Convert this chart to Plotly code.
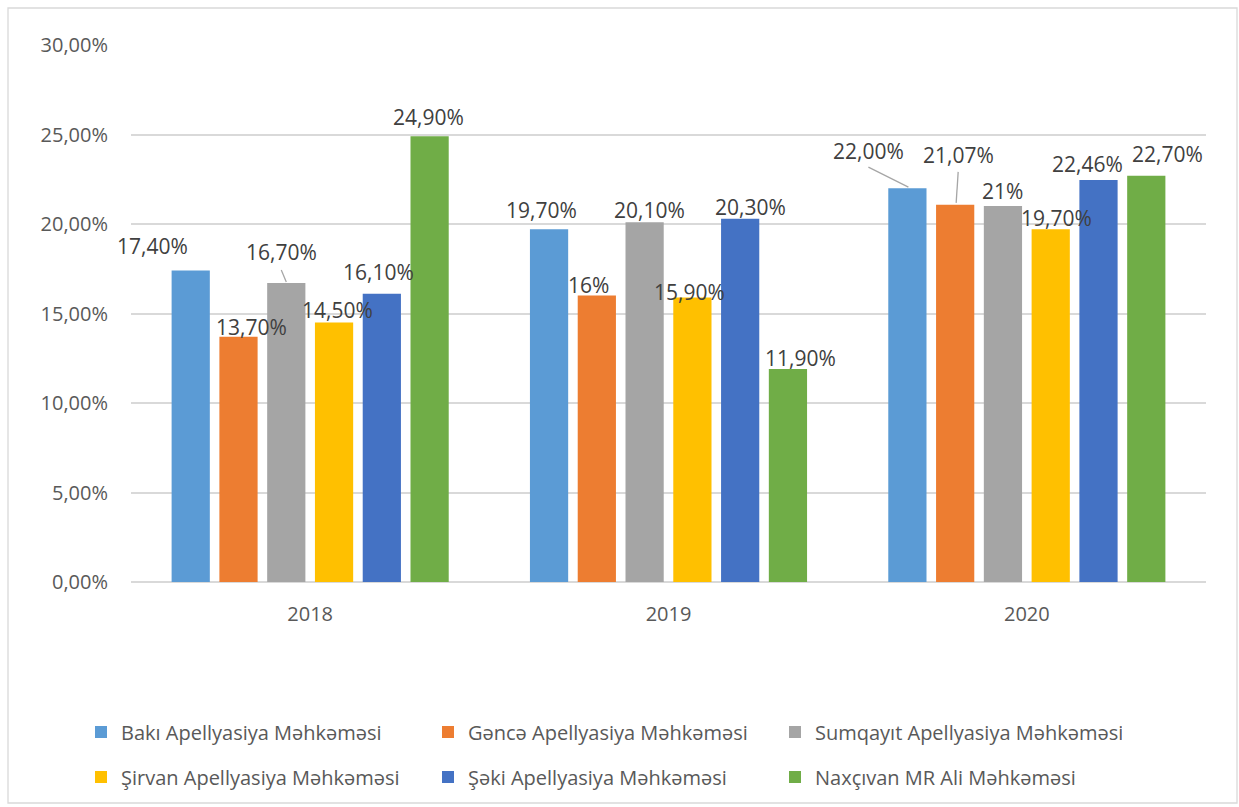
import plotly.graph_objects as go

years = ["2018", "2019", "2020"]
series_names = [
    "Bakı Apellyasiya Məhkəməsi",
    "Gəncə Apellyasiya Məhkəməsi",
    "Sumqayıt Apellyasiya Məhkəməsi",
    "Şirvan Apellyasiya Məhkəməsi",
    "Şəki Apellyasiya Məhkəməsi",
    "Naxçıvan MR Ali Məhkəməsi",
]
baki = [17.40, 19.70, 22.00]
gence = [13.70, 16.00, 21.07]
sumqayit = [16.70, 20.10, 21.00]
sirvan = [14.50, 15.90, 19.70]
seki = [16.10, 20.30, 22.46]
naxcivan = [24.90, 11.90, 22.70]
values = [baki, gence, sumqayit, sirvan, seki, naxcivan]

baki_lbl = ["17,40%", "19,70%", "22,00%"]
gence_lbl = ["13,70%", "16%", "21,07%"]
sumqayit_lbl = ["16,70%", "20,10%", "21%"]
sirvan_lbl = ["14,50%", "15,90%", "19,70%"]
seki_lbl = ["16,10%", "20,30%", "22,46%"]
naxcivan_lbl = ["24,90%", "11,90%", "22,70%"]
labels = [baki_lbl, gence_lbl, sumqayit_lbl, sirvan_lbl, seki_lbl, naxcivan_lbl]

y_ticks = [0, 5, 10, 15, 20, 25, 30]
y_tick_text = ["0,00%", "5,00%", "10,00%", "15,00%", "20,00%", "25,00%", "30,00%"]

colors = ["#5B9BD5", "#ED7D31", "#A5A5A5", "#FFC000", "#4472C4", "#70AD47"]

# label pixel offsets (dx, dy up) per series per year, relative to bar top centre
label_offsets = [
    [(-38, 25), (-8, 19), (-39, 37)],
    [(13, 10), (-8, 11), (3, 50)],
    [(-5, 31), (5, 12), (0, 15)],
    [(3, 12), (-3, 5), (6, 11)],
    [(-3, 22), (10, 12), (-11, 16)],
    [(-1, 19), (13, 11), (21, 22)],
]
# leader lines: (series, year index, start dx, start dy, end dx, end dy)
leaders = [
    (2, 0, -5, 13, 0, 1),
    (0, 2, -39, 21, 1, 1),
    (1, 2, 3, 33, 1, 2),
]

BARGAP = 0.2
n = len(values)
slot = (1 - BARGAP) / n

def bar_x(si, yi):
    return yi - (1 - BARGAP) / 2 + (si + 0.5) * slot

fig = go.Figure()
for i, (name, vals) in enumerate(zip(series_names, values)):
    fig.add_trace(go.Bar(
        x=years, y=vals, name=name,
        marker=dict(color=colors[i], line=dict(width=0)),
        legend="legend" if i < 3 else "legend2",
        hoverinfo="skip",
    ))

annotations = []
for si in range(n):
    for yi in range(len(years)):
        dx, dy = label_offsets[si][yi]
        annotations.append(dict(
            x=bar_x(si, yi), y=values[si][yi], xref="x", yref="y",
            text=labels[si][yi], showarrow=False,
            xshift=dx, yshift=dy, xanchor="center", yanchor="middle",
            font=dict(family="Open Sans", size=21, color="#404040"),
        ))

shapes = []
for si, yi, x0, y0, x1, y1 in leaders:
    shapes.append(dict(
        type="line", xref="x", yref="y",
        xsizemode="pixel", ysizemode="pixel",
        xanchor=bar_x(si, yi), yanchor=values[si][yi],
        x0=x0, y0=y0, x1=x1, y1=y1,
        line=dict(color="#A6A6A6", width=1.3),
    ))

PW, PH = 1075, 537
ML, MR, MT, MB = 131, 33, 45, 225
shapes.append(dict(
    type="rect", xref="paper", yref="paper",
    x0=(8 - ML) / PW, x1=(1237 - ML) / PW,
    y0=(MT + PH - 803) / PH, y1=(MT + PH - 8) / PH,
    line=dict(color="#D9D9D9", width=1.3), fillcolor="rgba(0,0,0,0)", layer="below",
))

legend_common = dict(orientation="h", xanchor="left", yanchor="middle",
                     entrywidth=302, font=dict(size=20, color="#595959"),
                     itemclick=False, itemdoubleclick=False)

fig.update_layout(
    width=1239, height=807,
    margin=dict(l=ML, r=MR, t=MT, b=MB, autoexpand=False),
    paper_bgcolor="white", plot_bgcolor="white",
    barmode="group", bargap=BARGAP, bargroupgap=0.2,
    font=dict(family="Open Sans", color="#595959"),
    annotations=annotations, shapes=shapes,
    xaxis=dict(type="category", range=[-0.5, 2.5], autorange=False,
               showgrid=False, showline=False, zeroline=False,
               tickfont=dict(size=20, color="#595959"), ticks="", ticklabelstandoff=18),
    yaxis=dict(range=[0, 30], autorange=False, tickvals=y_ticks, ticktext=y_tick_text,
               showgrid=True, gridcolor="#D9D9D9", gridwidth=1.5,
               zeroline=True, zerolinecolor="#D9D9D9", zerolinewidth=1.5,
               showline=False, ticks="", ticklabelstandoff=22,
               tickfont=dict(size=20, color="#595959")),
    legend=dict(x=(81 - ML) / PW, y=(MT + PH - 732) / PH, **legend_common),
    legend2=dict(x=(81 - ML) / PW, y=(MT + PH - 777) / PH, **legend_common),
    showlegend=True,
)

fig.write_html("out.html", config={"displayModeBar": False},
               post_script="document.body.style.margin='0';")
